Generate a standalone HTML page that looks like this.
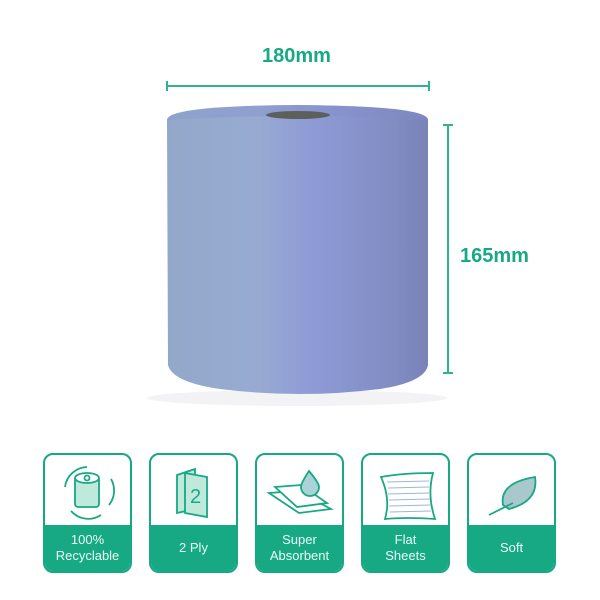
<!DOCTYPE html>
<html><head><meta charset="utf-8"><style>
body{margin:0;width:600px;height:600px;background:#fff;overflow:hidden;position:relative;font-family:"Liberation Sans",sans-serif}
.t{position:absolute;color:#17a884;font-weight:bold;font-size:20px}
.b{position:absolute;top:453px;width:85px;height:116px;border:2px solid #17a884;border-radius:10px;overflow:hidden;background:#fff}
.b .g{position:absolute;left:0;right:0;bottom:0;height:46px;background:#17a884;color:#eafff7;font-size:13px;line-height:16px;text-align:center;display:flex;align-items:center;justify-content:center}
.b svg{position:absolute;left:0;top:0}
</style></head><body>
<svg width="600" height="600" style="position:absolute;left:0;top:0">
<defs>
<linearGradient id="r" x1="0" x2="1">
<stop offset="0" stop-color="#93a8c9"/><stop offset="0.35" stop-color="#98aad2"/>
<stop offset="0.55" stop-color="#8e9bd6"/><stop offset="0.85" stop-color="#828dc4"/><stop offset="1" stop-color="#7884b8"/></linearGradient>
<linearGradient id="top" x1="0" x2="1"><stop offset="0" stop-color="#8a9ccc"/><stop offset="1" stop-color="#8088c6"/></linearGradient>
</defs>
<ellipse cx="297" cy="398" rx="150" ry="8" fill="#f3f3f5"/>
<path d="M167 120 Q167 106 297 105 Q428 106 428 120 L428 365 Q425 382 380 389 Q300 399 220 389 Q172 382 168 365 Z" fill="url(#r)"/>
<path d="M167 120 Q167 106 297 105 Q428 106 428 120 Q300 112 167 120Z" fill="url(#top)" opacity="0.5"/>
<ellipse cx="298" cy="115" rx="32" ry="4" fill="#5c5f5a"/>
<g stroke="#2db592" stroke-width="2" fill="none">
<line x1="167" y1="86" x2="429" y2="86"/><line x1="167" y1="81" x2="167" y2="91"/><line x1="429" y1="81" x2="429" y2="91"/>
<line x1="448" y1="125" x2="448" y2="373"/><line x1="443" y1="125" x2="453" y2="125"/><line x1="443" y1="373" x2="453" y2="373"/>
</g>
</svg>
<div class="t" style="left:262px;top:45px">180mm</div>
<div class="t" style="left:460px;top:245px">165mm</div>

<div class="b" style="left:43px"><svg width="85" height="72"><g stroke="#17a884" stroke-width="1.8" fill="none">
<path d="M20 32 A23 23 0 0 1 42 12"/><path d="M66 24 A23 23 0 0 1 64 50"/><path d="M56 60 A23 23 0 0 1 26 56"/>
<rect x="30" y="22" width="24" height="30" rx="3" fill="#bfe9da"/><ellipse cx="42" cy="23" rx="12" ry="5" fill="#fff"/><circle cx="42" cy="23" r="2.5"/></g></svg>
<div class="g">100%<br>Recyclable</div></div>
<div class="b" style="left:149px"><svg width="85" height="72"><g stroke="#17a884" stroke-width="1.8"><path d="M26 20 L44 14 L44 54 L26 58Z" fill="#bfe9da"/><path d="M34 18 L56 22 L56 62 L34 58Z" fill="#bfe9da"/></g><text x="39" y="48" font-size="20" fill="#17a884" font-family="Liberation Sans">2</text></svg>
<div class="g">2 Ply</div></div>
<div class="b" style="left:255px"><svg width="85" height="72"><g stroke="#17a884" stroke-width="1.8" fill="#fff"><path d="M12 38 L40 36 L74 54 L42 58Z"/><path d="M18 32 L44 30 L70 48 L40 52Z"/><path d="M52 16 Q62 28 62 32 A9 9 0 0 1 44 32 Q44 28 52 16Z" fill="#a9d3d8"/></g></svg>
<div class="g">Super<br>Absorbent</div></div>
<div class="b" style="left:361px"><svg width="85" height="72"><g stroke="#17a884" stroke-width="1.8" fill="#fff"><path d="M18 22 Q40 18 70 18 Q64 40 72 64 Q44 62 22 64 Q28 44 18 22Z"/></g><g stroke="#9ab8d6" stroke-width="1"><line x1="24" y1="27" x2="66" y2="26"/><line x1="25" y1="33" x2="66" y2="32"/><line x1="25" y1="39" x2="66" y2="38"/><line x1="26" y1="45" x2="67" y2="44"/><line x1="26" y1="51" x2="68" y2="50"/><line x1="27" y1="57" x2="68" y2="56"/></g></svg>
<div class="g">Flat<br>Sheets</div></div>
<div class="b" style="left:467px"><svg width="85" height="72"><g stroke="#17a884" stroke-width="1.8"><path d="M34 50 Q30 28 66 22 Q70 46 40 54Z" fill="#a9c8cc"/><path d="M20 60 L44 48" fill="none"/></g></svg>
<div class="g">Soft</div></div>
</body></html>
